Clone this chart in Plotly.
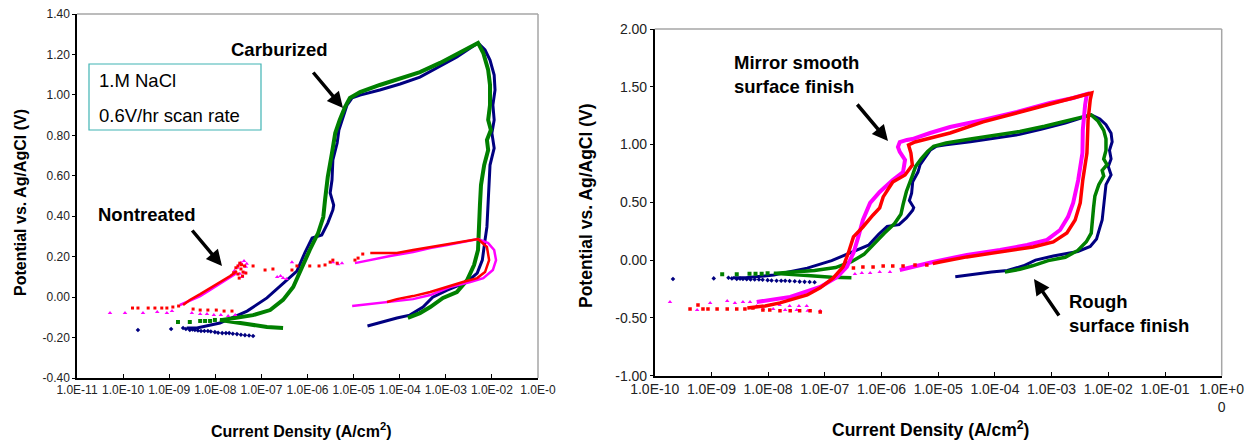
import plotly.graph_objects as go

# ---------------------------------------------------------------------------
# Cyclic polarisation data, current density in A/cm2, potential in V vs Ag/AgCl
# ---------------------------------------------------------------------------

# Carburized / rough-finish specimen, run A (navy)
carb_a_dots_i = [6.6e-8, 5.4e-8, 4.4e-8, 3.6e-8, 2.95e-8, 2.4e-8, 2.0e-8, 1.7e-8, 1.41e-8,
                 1.15e-8, 9.8e-9, 8.0e-9, 6.9e-9, 5.8e-9, 4.9e-9, 4.2e-9, 3.6e-9, 3.2e-9,
                 2.8e-9, 2.3e-9, 2.0e-9, 1.1e-9, 2.1e-10]
carb_a_dots_v = [-0.192, -0.190, -0.188, -0.186, -0.183, -0.181, -0.178, -0.178, -0.178,
                 -0.176, -0.173, -0.170, -0.168, -0.168, -0.168, -0.165, -0.163, -0.160,
                 -0.163, -0.158, -0.153, -0.158, -0.163]
carb_a_i = [2.4e-9, 4.0e-9, 1.26e-8, 4.9e-8, 1.32e-7, 2.95e-7, 5.9e-7, 8.9e-7, 1.26e-6, 2.04e-6,
            2.75e-6, 3.55e-6, 3.7e-6, 3.1e-6, 3.4e-6, 3.55e-6, 4.4e-6, 4.8e-6, 5.9e-6, 7.2e-6,
            9.3e-6, 1.38e-5, 3.7e-5, 1.02e-4, 2.75e-4, 6.5e-4, 1.74e-3, 3.4e-3, 5.0e-3,
            7.1e-3, 9.1e-3, 1.12e-2, 1.17e-2, 1.05e-2, 1.12e-2, 1.0e-2, 1.12e-2, 9.1e-3, 8.7e-3,
            8.3e-3, 7.8e-3, 7.1e-3, 6.2e-3, 4.8e-3, 2.9e-3, 1.07e-3, 5.2e-4, 3.2e-4, 1.66e-4,
            8.7e-5, 2.0e-5]
carb_a_v = [-0.153, -0.153, -0.128, -0.069, -0.004, 0.065, 0.129, 0.223, 0.292, 0.307,
            0.366, 0.431, 0.455, 0.515, 0.579, 0.678, 0.762, 0.826, 0.891, 0.950,
            0.985, 0.999, 1.024, 1.054, 1.088, 1.133, 1.187, 1.232, 1.257,
            1.222, 1.172, 1.098, 1.024, 0.950, 0.876, 0.811, 0.737, 0.653, 0.554,
            0.455, 0.347, 0.282, 0.183, 0.119, 0.075, 0.035, 0.000, -0.049, -0.089,
            -0.103, -0.143]

# Carburized / rough-finish specimen, run B (green)
carb_b_dots_i = [9.8e-9, 7.7e-9, 6.0e-9, 4.7e-9, 2.8e-9, 1.55e-9]
carb_b_dots_v = [-0.113, -0.118, -0.118, -0.118, -0.123, -0.123]
carb_b_i = [2.95e-7, 1.32e-7, 4.9e-8, 2.1e-8, 1.26e-8, 1.41e-8, 2.1e-8, 6.6e-8, 1.55e-7, 2.95e-7,
            4.9e-7, 7.6e-7, 1.12e-6, 1.7e-6, 2.2e-6, 2.4e-6, 2.75e-6, 3.4e-6, 4.0e-6, 5.0e-6,
            6.5e-6, 8.3e-6, 1.38e-5, 3.7e-5, 1.02e-4, 2.75e-4, 7.5e-4, 2.0e-3, 5.0e-3,
            6.5e-3, 8.3e-3, 9.1e-3, 9.1e-3, 8.3e-3, 9.5e-3, 7.8e-3, 8.3e-3, 6.8e-3, 5.8e-3,
            5.5e-3, 5.2e-3, 5.0e-3, 4.1e-3, 2.9e-3, 1.74e-3, 8.7e-4, 4.6e-4, 2.75e-4, 1.5e-4]
carb_b_v = [-0.153, -0.148, -0.133, -0.123, -0.113, -0.113, -0.108, -0.089, -0.064, -0.014,
            0.050, 0.149, 0.233, 0.317, 0.396, 0.480, 0.594, 0.713, 0.811, 0.876,
            0.940, 0.985, 1.014, 1.049, 1.079, 1.113, 1.158, 1.207, 1.257,
            1.207, 1.123, 1.049, 0.950, 0.876, 0.826, 0.777, 0.727, 0.653, 0.554,
            0.455, 0.332, 0.233, 0.159, 0.084, 0.025, -0.004, -0.049, -0.079, -0.103]

# Nontreated specimen, run A (red)
nt_red_pts_i = [2.3e-8, 1.55e-8, 1.05e-8, 6.9e-9, 4.7e-9, 3.3e-9,
                1.6e-9, 1.2e-9, 8.9e-10, 6.9e-10, 4.9e-10, 3.5e-10, 2.1e-10, 1.6e-10,
                2.5e-8, 3.1e-8, 3.4e-8, 3.1e-8, 3.6e-8, 4.0e-8, 4.3e-8, 3.3e-8, 3.9e-8,
                4.6e-8, 3.7e-8, 2.8e-8,
                6.6e-8, 1.2e-7, 1.78e-7, 4.6e-7, 5.9e-7, 1.12e-6, 1.78e-6, 2.4e-6, 3.1e-6,
                3.55e-6, 4.4e-6, 1.07e-5, 1.25e-5, 1.58e-5]
nt_red_pts_v = [-0.069, -0.069, -0.064, -0.064, -0.064, -0.059,
                -0.044, -0.049, -0.054, -0.054, -0.054, -0.054, -0.054, -0.054,
                0.120, 0.154, 0.168, 0.114, 0.139, 0.124, 0.154, 0.094, 0.104,
                0.119, 0.160, 0.145,
                0.154, 0.134, 0.139, 0.134, 0.154, 0.154, 0.154, 0.159, 0.173,
                0.183, 0.168, 0.183, 0.193, 0.213]
nt_red_i = [2.0e-9, 2.8e-9, 4.7e-9, 7.7e-9, 1.26e-8, 2.1e-8, 2.95e-8, None,
            2.3e-5, 4.4e-5, 8.7e-5, 1.95e-4, 4.6e-4, 1.07e-3, 2.35e-3, 5.0e-3,
            7.8e-3, 8.7e-3, 7.1e-3, 4.8e-3, 2.35e-3, 1.07e-3, 4.6e-4, 1.95e-4, 8.7e-5, 5.3e-5]
nt_red_v = [-0.039, -0.014, 0.015, 0.045, 0.075, 0.104, 0.129, None,
            0.218, 0.218, 0.218, 0.233, 0.248, 0.263, 0.277, 0.287,
            0.248, 0.183, 0.124, 0.094, 0.075, 0.050, 0.025, 0.005, -0.010, -0.024]

# Nontreated specimen, run B (magenta)
nt_mag_pts_i = [5.2e-11, 1.1e-10, 2.7e-10, 5.5e-10, 8.9e-10, 1.15e-9,
                3.1e-9, 4.7e-9, 6.6e-9, 9.3e-9, 1.32e-8, 1.9e-8, 2.7e-8,
                2.6e-8, 3.0e-8, 3.3e-8, 3.6e-8, 4.2e-8, 4.6e-8, 4.4e-8, 3.8e-8, 4.8e-8, 3.4e-8,
                2.2e-7, 2.95e-7, 2.6e-7, 3.5e-7, 4.6e-7, 3.55e-6, 4.6e-6, 5.6e-6]
nt_mag_pts_v = [-0.079, -0.079, -0.079, -0.074, -0.079, -0.069,
                -0.079, -0.084, -0.084, -0.089, -0.089, -0.094, -0.089,
                0.130, 0.145, 0.160, 0.170, 0.178, 0.150, 0.120, 0.100, 0.165, 0.115,
                0.099, 0.094, 0.104, 0.089, 0.173, 0.173, 0.163, 0.168]
nt_mag_i = [1.7e-9, 2.8e-9, 4.7e-9, 7.7e-9, 1.26e-8, 2.1e-8, 2.95e-8, None,
            1.07e-5, 1.38e-5, 2.5e-5, 6.2e-5, 1.95e-4, 4.6e-4, 1.07e-3, 2.35e-3, 5.0e-3,
            8.3e-3, 1.12e-2, 1.23e-2, 1.05e-2, 6.5e-3, 3.4e-3, 1.23e-3, 4.6e-4, 1.95e-4,
            8.7e-5, 3.7e-5, 1.78e-5, 9.3e-6]
nt_mag_v = [-0.039, -0.019, 0.005, 0.035, 0.065, 0.094, 0.119, None,
            0.168, 0.173, 0.188, 0.203, 0.223, 0.243, 0.258, 0.272, 0.287,
            0.267, 0.233, 0.183, 0.134, 0.094, 0.075, 0.050, 0.010, -0.010,
            -0.019, -0.029, -0.039, -0.044]

# Mirror-smooth specimen, run A (red)
ms_red_pts_i = [8.3e-8, 5.5e-8, 3.6e-8, 2.45e-8, 1.62e-8, 1.07e-8, 8.1e-9, 5.4e-9, 3.9e-9,
                2.8e-9, 1.9e-9, 1.26e-9, 8.7e-10, 7.1e-10, 5.8e-10, 4.2e-10,
                6.3e-6, 3.9e-6, 2.4e-6, 1.58e-6, 1.07e-6, 7.1e-7, 4.7e-7, 3.2e-7]
ms_red_pts_v = [-0.448, -0.439, -0.439, -0.439, -0.439, -0.431, -0.431, -0.414, -0.422,
                -0.422, -0.422, -0.422, -0.422, -0.422, -0.388, -0.422,
                -0.042, -0.042, -0.050, -0.050, -0.050, -0.059, -0.059, -0.067]
ms_red_i = [4.3e-9, 8.9e-9, 1.62e-8, 3.2e-8, 4.9e-8, 8.3e-8, 1.41e-7, 2.1e-7, 2.6e-7, 3.2e-7,
            4.7e-7, 7.1e-7, 9.3e-7, 1.07e-6, 1.58e-6, 2.6e-6, 3.5e-6, 3.3e-6, 3.0e-6, 3.9e-6,
            6.3e-6, 1.07e-5, 1.62e-5, 6.2e-5, 2.45e-4, 9.3e-4, 2.4e-3, 5.1e-3,
            4.8e-3, 4.4e-3, 4.2e-3, 3.55e-3, 3.2e-3, 2.6e-3, 1.86e-3, 1.07e-3, 4.7e-4,
            1.23e-4, 3.2e-5, 1.07e-5, 8.0e-6]
ms_red_v = [-0.414, -0.396, -0.370, -0.327, -0.301, -0.240, -0.154, -0.059, 0.062, 0.201,
            0.287, 0.391, 0.452, 0.547, 0.676, 0.737, 0.824, 0.927, 0.997, 1.022,
            1.048, 1.074, 1.100, 1.196, 1.273, 1.343, 1.403, 1.446,
            1.386, 1.213, 0.927, 0.694, 0.495, 0.348, 0.235, 0.157, 0.114,
            0.071, 0.028, -0.016, -0.030]

# Mirror-smooth specimen, run B (magenta)
ms_mag_pts_i = [8.3e-8, 5.0e-8, 3.2e-8, 2.0e-8, 1.23e-8, 8.1e-9, 4.8e-8, 3.5e-8, 2.4e-8,
                1.6e-8, 1.1e-8, 6.3e-9, 4.8e-9, 3.6e-9, 2.6e-9, 1.9e-9, 9.5e-10, 5.6e-10,
                1.86e-10,
                1.41e-6, 9.3e-7, 6.3e-7, 4.5e-7, 3.4e-7]
ms_mag_pts_v = [-0.439, -0.439, -0.431, -0.431, -0.422, -0.422, -0.396, -0.396, -0.396,
                -0.388, -0.388, -0.396, -0.362, -0.362, -0.370, -0.353, -0.370, -0.431,
                -0.362,
                -0.102, -0.102, -0.111, -0.111, -0.119]
ms_mag_i = [6.3e-9, 2.45e-8, 8.3e-8, 1.66e-7, 2.45e-7, 3.2e-7, 3.9e-7, 4.7e-7, 6.3e-7, 9.3e-7,
            1.58e-6, 2.4e-6, 2.6e-6, 2.1e-6, 1.95e-6, 2.1e-6, 2.8e-6, 3.5e-6,
            7.2e-6, 1.62e-5, 6.2e-5, 2.45e-4, 9.3e-4, 2.4e-3, 4.2e-3,
            3.9e-3, 3.55e-3, 3.5e-3, 2.95e-3, 2.4e-3, 1.95e-3, 1.41e-3, 8.3e-4, 3.7e-4,
            1.23e-4, 3.2e-5, 8.1e-6, 4.3e-6, 2.1e-6]
ms_mag_v = [-0.362, -0.318, -0.232, -0.145, -0.059, 0.062, 0.201, 0.348, 0.495, 0.590,
            0.694, 0.763, 0.867, 0.936, 0.979, 1.022, 1.040, 1.048,
            1.100, 1.152, 1.213, 1.282, 1.360, 1.403, 1.438,
            1.343, 1.126, 0.927, 0.694, 0.495, 0.374, 0.261, 0.175, 0.131,
            0.088, 0.045, -0.016, -0.050, -0.085]

# Axis ticks
left_x_ticks = [1e-11, 1e-10, 1e-9, 1e-8, 1e-7, 1e-6, 1e-5, 1e-4, 1e-3, 1e-2, 1e-1]
left_x_labels = ["1.0E-11", "1.0E-10", "1.0E-09", "1.0E-08", "1.0E-07", "1.0E-06",
                 "1.0E-05", "1.0E-04", "1.0E-03", "1.0E-02", "1.0E-0"]
left_y_ticks = [-0.40, -0.20, 0.00, 0.20, 0.40, 0.60, 0.80, 1.00, 1.20, 1.40]
left_y_labels = ["-0.40", "-0.20", "0.00", "0.20", "0.40", "0.60", "0.80", "1.00", "1.20", "1.40"]
right_x_ticks = [1e-10, 1e-9, 1e-8, 1e-7, 1e-6, 1e-5, 1e-4, 1e-3, 1e-2, 1e-1, 1e0]
right_x_labels = ["1.0E-10", "1.0E-09", "1.0E-08", "1.0E-07", "1.0E-06", "1.0E-05",
                  "1.0E-04", "1.0E-03", "1.0E-02", "1.0E-01", "1.0E+0<br>0"]
right_y_ticks = [-1.00, -0.50, 0.00, 0.50, 1.00, 1.50, 2.00]
right_y_labels = ["-1.00", "-0.50", "0.00", "0.50", "1.00", "1.50", "2.00"]

NAVY, GREEN, RED, MAGENTA = "#000080", "#008000", "#FF0000", "#FF00FF"
FONT = "Liberation Sans, Arial, sans-serif"
W, H = 1251, 441

fig = go.Figure()


def add_run(xa, ya, li, lv, pi, pv, color, width, symbol, msize):
    fig.add_trace(go.Scatter(x=li, y=lv, mode="lines", xaxis=xa, yaxis=ya,
                             line=dict(color=color, width=width), connectgaps=False,
                             showlegend=False, hoverinfo="skip"))
    fig.add_trace(go.Scatter(x=pi, y=pv, mode="markers", xaxis=xa, yaxis=ya,
                             marker=dict(color=color, size=msize, symbol=symbol,
                                         line=dict(width=0)),
                             showlegend=False, hoverinfo="skip"))


# Left panel: carburized vs nontreated
add_run("x", "y", carb_a_i, carb_a_v, carb_a_dots_i, carb_a_dots_v, NAVY, 3, "diamond", 3.5)
add_run("x", "y", carb_b_i, carb_b_v, carb_b_dots_i, carb_b_dots_v, GREEN, 4, "square", 4)
add_run("x", "y", nt_mag_i, nt_mag_v, nt_mag_pts_i, nt_mag_pts_v, MAGENTA, 2.5, "triangle-up", 4)
add_run("x", "y", nt_red_i, nt_red_v, nt_red_pts_i, nt_red_pts_v, RED, 2.5, "square", 3)

# Right panel: rough vs mirror-smooth finish
add_run("x2", "y2", carb_a_i, carb_a_v, carb_a_dots_i, carb_a_dots_v, NAVY, 3, "diamond", 3.5)
add_run("x2", "y2", carb_b_i, carb_b_v, carb_b_dots_i, carb_b_dots_v, GREEN, 3.5, "square", 4)
add_run("x2", "y2", ms_mag_i, ms_mag_v, ms_mag_pts_i, ms_mag_pts_v, MAGENTA, 4, "triangle-up", 4)
add_run("x2", "y2", ms_red_i, ms_red_v, ms_red_pts_i, ms_red_pts_v, RED, 3.5, "square", 3.5)


def px(xp):
    return xp / W


def py(yp):
    return 1 - yp / H


axis_common = dict(showline=True, linecolor="black", linewidth=1.5, showgrid=False,
                   zeroline=False, tickcolor="black", tickwidth=1, automargin=False)

fig.update_layout(
    template="none",
    width=W, height=H, margin=dict(l=0, r=0, t=0, b=0, autoexpand=False),
    paper_bgcolor="white", plot_bgcolor="white", showlegend=False,
    font=dict(family=FONT, color="black"),
    xaxis=dict(type="log", domain=[px(77), px(538)], range=[-11, -1], anchor="y",
               tickmode="array", tickvals=left_x_ticks, ticktext=left_x_labels,
               ticks="inside", ticklen=4, tickfont=dict(size=12, color="#222"),
               **axis_common),
    yaxis=dict(domain=[py(378), py(14)], range=[-0.4, 1.4], anchor="x",
               tickmode="array", tickvals=left_y_ticks, ticktext=left_y_labels,
               ticks="outside", ticklen=3, tickfont=dict(size=12, color="#222"),
               **axis_common),
    xaxis2=dict(type="log", domain=[px(654.7), px(1221.7)], range=[-10, 0], anchor="y2",
                tickmode="array", tickvals=right_x_ticks, ticktext=right_x_labels,
                ticks="inside", ticklen=4, tickfont=dict(size=14, color="#222"),
                **axis_common),
    yaxis2=dict(domain=[py(375.7), py(29)], range=[-1, 2], anchor="x2",
                tickmode="array", tickvals=right_y_ticks, ticktext=right_y_labels,
                ticks="outside", ticklen=3, tickfont=dict(size=14, color="#222"),
                **axis_common),
)

# Grey plot-area border on the top and right sides
shapes = []
for xr, yr in (("x domain", "y domain"), ("x2 domain", "y2 domain")):
    shapes.append(dict(type="line", xref=xr, yref=yr, x0=0, x1=1, y0=1, y1=1,
                       line=dict(color="#a6a6a6", width=1.5)))
    shapes.append(dict(type="line", xref=xr, yref=yr, x0=1, x1=1, y0=0, y1=1,
                       line=dict(color="#a6a6a6", width=1.5)))
# Test-condition box
shapes.append(dict(type="rect", xref="paper", yref="paper",
                   x0=px(89), x1=px(261), y0=py(130), y1=py(64),
                   line=dict(color="#40b4b4", width=1.2), fillcolor="rgba(0,0,0,0)"))
fig.update_layout(shapes=shapes)

ann = []
# Axis titles
ann.append(dict(text="<b>Potential vs. Ag/AgCl (V)</b>", x=px(21), y=py(203), textangle=-90,
                font=dict(size=16)))
ann.append(dict(text="<b>Current Density (A/cm<sup>2</sup>)</b>", x=px(301), y=py(430),
                font=dict(size=16)))
ann.append(dict(text="<b>Potential vs. Ag/AgCl (V)</b>", x=px(586), y=py(206), textangle=-90,
                font=dict(size=17.5)))
ann.append(dict(text="<b>Current Density (A/cm<sup>2</sup>)</b>", x=px(930), y=py(429),
                font=dict(size=17.5)))
# Test-condition text
ann.append(dict(text="1.M NaCl", x=px(97), y=py(80), xanchor="left", font=dict(size=18.5)))
ann.append(dict(text="0.6V/hr scan rate", x=px(97), y=py(115), xanchor="left",
                font=dict(size=18.5)))
# Labels
ann.append(dict(text="<b>Carburized</b>", x=px(279), y=py(50), font=dict(size=18.5)))
ann.append(dict(text="<b>Nontreated</b>", x=px(147), y=py(214), font=dict(size=18.5)))
ann.append(dict(text="<b>Mirror smooth<br>surface finish</b>", x=px(732), y=py(74),
                xanchor="left", align="left", font=dict(size=18.5)))
ann.append(dict(text="<b>Rough<br>surface finish</b>", x=px(1067), y=py(313),
                xanchor="left", align="left", font=dict(size=18.5)))
for a in ann:
    a.setdefault("xanchor", "center")
    a.update(xref="paper", yref="paper", yanchor="middle", showarrow=False)

# Arrows (head position, tail offset in pixels)
arrows = [((343, 108), (-31, -37)), ((222, 266), (-31, -37)),
          ((888, 141), (-32, -38)), ((1034, 279), (26, 38))]
for (hx, hy), (ax, ay) in arrows:
    ann.append(dict(text="", xref="paper", yref="paper", x=px(hx), y=py(hy),
                    ax=ax, ay=ay, axref="pixel", ayref="pixel", showarrow=True,
                    arrowhead=2, arrowsize=0.9, arrowwidth=3.5, arrowcolor="black",
                    standoff=0, startstandoff=0))
fig.update_layout(annotations=ann)

fig.write_html("out.html")
